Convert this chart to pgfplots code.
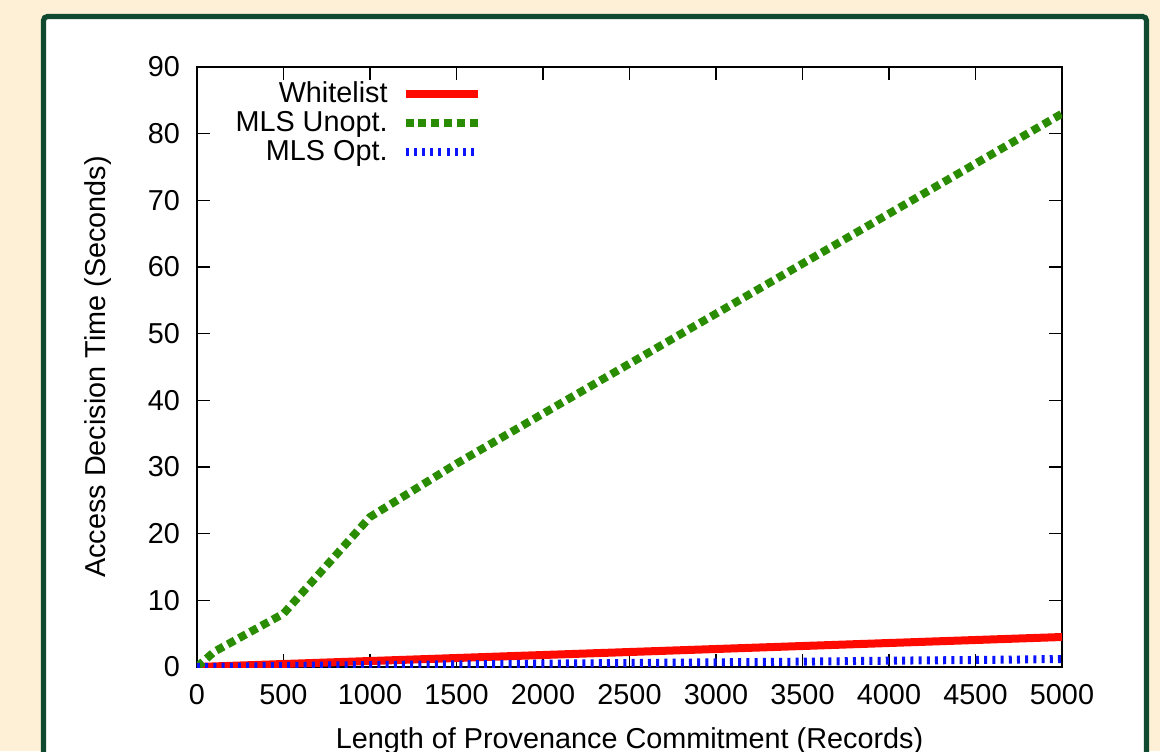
\documentclass[border=0pt]{standalone}
\usepackage{fontspec}
\setmainfont{Liberation Sans}
\usepackage{pgfplots}
\pgfplotsset{compat=1.18}
\usetikzlibrary{backgrounds}
\definecolor{cream}{HTML}{FDF0D6}
\definecolor{framegreen}{HTML}{0F4A30}
\definecolor{gpgreen}{HTML}{2A8C00}
\definecolor{gpred}{HTML}{FF0A00}
\definecolor{gpblue}{HTML}{0A14FF}

\begin{document}
\begin{tikzpicture}[x=1pt,y=1pt]
\begin{axis}[
    at={(0,0)}, anchor=south west,
    scale only axis,
    width=432.5pt, height=300pt,
    xmin=0, xmax=5000,
    ymin=0, ymax=90,
    xtick={0,500,...,5000},
    ytick={0,10,...,90},
    scaled x ticks=false,
    x tick label style={/pgf/number format/1000 sep={}},
    /pgf/number format/assume math mode=true,
    tick align=inside,
    major tick length=6.3pt,
    axis line style={line width=0.8pt},
    every tick/.style={black, line width=0.6pt},
    tick label style={font=\fontsize{14.4}{16}\selectfont},
    label style={font=\fontsize{14.4}{16}\selectfont},
    xticklabel style={yshift=-5pt},
    yticklabel style={xshift=-5pt},
    xlabel={Length of Provenance Commitment (Records)},
    ylabel={Access Decision Time (Seconds)},
    xlabel style={at={(axis description cs:0.5,-0.123)}, anchor=center},
    ylabel style={at={(axis description cs:-0.1145,0.5)}, anchor=center},
    legend style={draw=none, fill=none, inner sep=0pt,
        at={(axis description cs:0.3295,0.981)}, anchor=north east,
        font=\fontsize{14.4}{16}\selectfont,
        row sep=0pt, column sep=5.5pt,
        nodes={inner sep=1.5pt}},
    legend cell align=right,
    legend plot pos=right,
    legend image code/.code={\draw[#1] (0pt,0pt) -- (36pt,0pt);},
]
\addplot[gpred, line width=4pt] coordinates {
    (0,0) (500,0.45) (1000,0.9) (1500,1.35) (2000,1.8) (2500,2.25)
    (3000,2.7) (3500,3.15) (4000,3.6) (4500,4.05) (5000,4.5)
};
\addlegendentry{Whitelist}
\addplot[gpgreen, line width=4pt, dash pattern=on 4pt off 2.4pt] coordinates {
    (0,0) (100,2.3) (500,8) (1000,22.5) (1500,30.5) (2000,38)
    (2500,45.5) (3000,53) (3500,60.5) (4000,68) (4500,75.5) (5000,83)
};
\addlegendentry{MLS Unopt.}
\addplot[gpblue, line width=4pt, dash pattern=on 1.5pt off 2.6pt] coordinates {
    (0,0) (500,0.15) (1000,0.3) (1500,0.4) (2000,0.5) (2500,0.6)
    (3000,0.7) (3500,0.8) (4000,0.95) (4500,1.05) (5000,1.2)
};
\addlegendentry{MLS Opt.}
\end{axis}
\begin{scope}[on background layer]
\fill[cream] (-98.5,-42) rectangle (481.5,333.5);
\draw[framegreen, line width=2.6pt, fill=white, rounded corners=2pt]
    (-76.75,-52) rectangle (474.75,325.25);
\end{scope}
\pgfresetboundingbox
\path[use as bounding box] (-98.5,-42) rectangle (481.5,333.5);
\end{tikzpicture}
\end{document}
